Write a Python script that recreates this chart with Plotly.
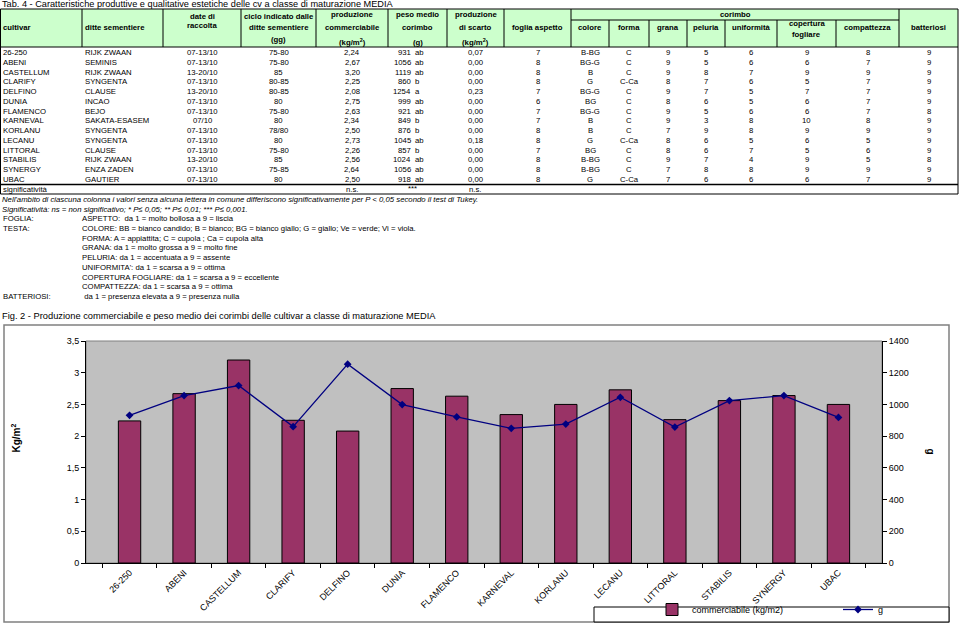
import plotly.graph_objects as go

# ---------------- data ----------------
cultivar = ["26-250", "ABENI", "CASTELLUM", "CLARIFY", "DELFINO", "DUNIA", "FLAMENCO",
            "KARNEVAL", "KORLANU", "LECANU", "LITTORAL", "STABILIS", "SYNERGY", "UBAC"]
ditte = ["RIJK ZWAAN", "SEMINIS", "RIJK ZWAAN", "SYNGENTA", "CLAUSE", "INCAO", "BEJO",
         "SAKATA-ESASEM", "SYNGENTA", "SYNGENTA", "CLAUSE", "RIJK ZWAAN", "ENZA ZADEN", "GAUTIER"]
date_raccolta = ["07-13/10", "07-13/10", "13-20/10", "07-13/10", "13-20/10", "07-13/10", "07-13/10",
                 "07/10", "07-13/10", "07-13/10", "07-13/10", "13-20/10", "07-13/10", "07-13/10"]
ciclo = ["75-80", "75-80", "85", "80-85", "80-85", "80", "75-80", "80", "78/80", "80",
         "75-80", "85", "75-85", "80"]
prod_comm = [2.24, 2.67, 3.20, 2.25, 2.08, 2.75, 2.63, 2.34, 2.50, 2.73, 2.26, 2.56, 2.64, 2.50]
peso_medio = [931, 1056, 1119, 860, 1254, 999, 921, 849, 876, 1045, 857, 1024, 1056, 918]
peso_lettere = ["ab", "ab", "ab", "b", "a", "ab", "ab", "b", "b", "ab", "b", "ab", "ab", "ab"]
prod_scarto = [0.07, 0.00, 0.00, 0.00, 0.23, 0.00, 0.00, 0.00, 0.00, 0.18, 0.00, 0.00, 0.00, 0.00]
foglia = [7, 8, 8, 8, 7, 6, 7, 7, 8, 8, 7, 8, 8, 8]
colore = ["B-BG", "BG-G", "B", "G", "BG-G", "BG", "BG-G", "B", "B", "G", "BG", "B-BG", "B-BG", "G"]
forma = ["C", "C", "C", "C-Ca", "C", "C", "C", "C", "C", "C-Ca", "C", "C", "C", "C-Ca"]
grana = [9, 9, 9, 8, 9, 8, 9, 9, 7, 8, 8, 9, 7, 7]
peluria = [5, 5, 8, 7, 7, 6, 5, 3, 9, 6, 6, 7, 8, 6]
uniformita = [6, 6, 7, 6, 5, 5, 6, 8, 8, 5, 7, 4, 8, 6]
copertura = [9, 6, 9, 5, 7, 6, 6, 10, 9, 6, 5, 9, 9, 6]
compattezza = [8, 7, 9, 7, 7, 7, 7, 8, 9, 5, 6, 5, 9, 7]
batteriosi = [9, 9, 9, 9, 9, 9, 8, 9, 9, 9, 9, 8, 9, 9]
significativita = {"comm": "n.s.", "peso": "***", "scarto": "n.s."}

title_tab = "Tab. 4 - Caratteristiche produttive e qualitative estetiche delle cv a classe di maturazione MEDIA"
title_fig = "Fig. 2 - Produzione commerciabile e peso medio dei corimbi delle cultivar a classe di maturazione MEDIA"
notes_italic = [
    "Nell'ambito di ciascuna colonna i valori senza alcuna lettera in comune differiscono significativamente per P < 0,05 secondo il test di Tukey.",
    "Significatività: ns = non significativo; * P≤ 0,05; ** P≤ 0,01; *** P≤ 0,001.",
]
notes_keys = [
    ("FOGLIA:", "ASPETTO:  da 1 = molto bollosa a 9 = liscia"),
    ("TESTA:", "COLORE: BB = bianco candido; B = bianco; BG = bianco giallo; G = giallo; Ve = verde; Vi = viola."),
    ("", "FORMA: A = appiattita; C = cupola ; Ca = cupola alta"),
    ("", "GRANA: da 1 = molto grossa a 9 = molto fine"),
    ("", "PELURIA: da 1 = accentuata a 9 = assente"),
    ("", "UNIFORMITA': da 1 = scarsa a 9 = ottima"),
    ("", "COPERTURA FOGLIARE: da 1 = scarsa a 9 = eccellente"),
    ("", "COMPATTEZZA: da 1 = scarsa a 9 = ottima"),
    ("BATTERIOSI:", " da 1 = presenza elevata a 9 = presenza nulla"),
]

# ---------------- layout constants ----------------
W, H = 960, 624
FONT = "Liberation Sans, Arial, sans-serif"
TFS = 7.75       # table font size
bounds = [0, 82, 163, 241, 316, 388, 447, 504, 571, 609, 649, 687, 725, 777, 836, 899, 958]
mid = [(bounds[i] + bounds[i + 1]) / 2 for i in range(len(bounds) - 1)]
HDR_TOP, HDR_BOT, SUB_Y = 9, 47, 20
ROW0, ROWSTEP = 52.5, 9.77
BODY_BOT, SIG_Y, SIG_BOT = 184.5, 189, 194
NOTE0, NOTESTEP = 199.5, 9.7
PLOT_L, PLOT_R, PLOT_T, PLOT_B = 86, 882, 341, 563


def px(x):
    return x / W


def py(y):
    return 1 - y / H


def fmt2(v):
    return f"{v:.2f}".replace(".", ",")


annotations = []
shapes = []


def txt(x, y, s, anchor="center", size=TFS, bold=False, italic=False, **kw):
    if bold:
        s = f"<b>{s}</b>"
    if italic:
        s = f"<i>{s}</i>"
    annotations.append(dict(x=px(x), y=py(y), xref="paper", yref="paper", text=s,
                            showarrow=False, xanchor=anchor, yanchor="middle",
                            font=dict(family=FONT, size=size, color="black"),
                            borderpad=0, **kw))


def hline(x0, x1, y, w=1, color="black"):
    shapes.append(dict(type="line", xref="paper", yref="paper", x0=px(x0), x1=px(x1),
                       y0=py(y), y1=py(y), line=dict(color=color, width=w)))


def vline(x, y0, y1, w=1, color="black"):
    shapes.append(dict(type="line", xref="paper", yref="paper", x0=px(x), x1=px(x),
                       y0=py(y0), y1=py(y1), line=dict(color=color, width=w)))


# ---------------- table header ----------------
shapes.append(dict(type="rect", xref="paper", yref="paper", x0=px(0.5), x1=px(bounds[-1]),
                   y0=py(HDR_TOP), y1=py(HDR_BOT), fillcolor="#ccffcc",
                   line=dict(color="black", width=1), layer="below"))
for b in [82, 163, 241, 316, 388, 447, 504, 571, 899]:
    vline(b, HDR_TOP, HDR_BOT)
for b in [609, 649, 687, 725, 777, 836]:
    vline(b, SUB_Y, HDR_BOT)
hline(571, 899, SUB_Y)

txt(2, 28, "cultivar", "left", bold=True)
txt(84, 28, "ditte sementiere", "left", bold=True)
txt(mid[2], 16, "date di", bold=True)
txt(mid[2], 26, "raccolta", bold=True)
txt(mid[3], 16.5, "ciclo indicato dalle", bold=True)
txt(mid[3], 27.5, "ditte sementiere", bold=True)
txt(mid[3], 39, "(gg)", bold=True)
for c, l1, l2, l3 in [(4, "produzione", "commerciabile", "(kg/m<sup>2</sup>)"),
                      (5, "peso medio", "corimbo", "(g)"),
                      (6, "produzione", "di scarto", "(kg/m<sup>2</sup>)")]:
    txt(mid[c], 14, l1, bold=True)
    txt(mid[c], 28, l2, bold=True)
    txt(mid[c], 42.5, l3, bold=True)
txt(mid[7], 28, "foglia aspetto", bold=True)
txt((571 + 899) / 2, 14.5, "corimbo", bold=True)
for c, lab in [(8, "colore"), (9, "forma"), (10, "grana"), (11, "peluria"),
               (12, "uniformità"), (14, "compattezza"), (15, "batteriosi")]:
    txt(mid[c], 28, lab, bold=True)
txt(mid[13], 24, "copertura", bold=True)
txt(mid[13], 34, "fogliare", bold=True)

# ---------------- table body ----------------
for i in range(len(cultivar)):
    y = ROW0 + i * ROWSTEP
    txt(2, y, cultivar[i], "left")
    txt(84, y, ditte[i], "left")
    txt(mid[2], y, date_raccolta[i])
    txt(mid[3], y, ciclo[i])
    txt(mid[4], y, fmt2(prod_comm[i]))
    txt(412, y, str(peso_medio[i]), "right")
    txt(414, y, peso_lettere[i], "left")
    txt(mid[6], y, fmt2(prod_scarto[i]))
    for c, arr in [(7, foglia), (8, colore), (9, forma), (10, grana), (11, peluria),
                   (12, uniformita), (13, copertura), (14, compattezza), (15, batteriosi)]:
        txt(mid[c], y, str(arr[i]))

vline(0.5, HDR_BOT, SIG_BOT)
vline(bounds[-1], HDR_BOT, SIG_BOT)
hline(0.5, bounds[-1], BODY_BOT, w=1.5)
hline(0.5, bounds[-1], SIG_BOT, w=1)

txt(2, SIG_Y, "significatività", "left")
txt(mid[4], SIG_Y, significativita["comm"])
txt(412, SIG_Y - 1, significativita["peso"])
txt(mid[6], SIG_Y, significativita["scarto"])

# ---------------- notes ----------------
for k, s in enumerate(notes_italic):
    txt(1, NOTE0 + k * NOTESTEP, s, "left", italic=True)
for k, (lab, s) in enumerate(notes_keys):
    y = NOTE0 + (k + 2) * NOTESTEP
    if lab:
        txt(2, y, lab, "left")
    txt(81, y, s, "left")

txt(1, 4.5, title_tab, "left", size=9.2)
txt(1, 316, title_fig, "left", size=9.3)

# ---------------- chart ----------------
shapes.append(dict(type="rect", xref="paper", yref="paper", x0=px(4), x1=px(949),
                   y0=py(325), y1=py(622), line=dict(color="#808080", width=1.5),
                   fillcolor="rgba(0,0,0,0)", layer="below"))
shapes.append(dict(type="rect", xref="x domain", yref="y domain", x0=0, x1=1, y0=0, y1=1,
                   fillcolor="#c0c0c0", line=dict(color="#808080", width=1), layer="below"))
# legend box
shapes.append(dict(type="rect", xref="paper", yref="paper", x0=px(594), x1=px(949),
                   y0=py(607), y1=py(622), line=dict(color="black", width=1),
                   fillcolor="white", layer="below"))

annotations.append(dict(x=px(7), y=py(455), xref="paper", yref="paper",
                        text="<b>Kg/m<sup>2</sup></b>", textangle=-90, showarrow=False,
                        font=dict(family=FONT, size=10, color="black")))
annotations.append(dict(x=px(938), y=py(456), xref="paper", yref="paper",
                        text="<b>g</b>", textangle=90, showarrow=False,
                        font=dict(family=FONT, size=10, color="black")))

fig = go.Figure()
fig.add_trace(go.Bar(x=cultivar, y=prod_comm, name="commerciabile (kg/m2)",
                     marker=dict(color="#993366", line=dict(color="black", width=1)),
                     hoverinfo="skip", legend="legend"))
fig.add_trace(go.Scatter(x=cultivar, y=peso_medio, name="g", yaxis="y2",
                         mode="lines+markers",
                         line=dict(color="#000080", width=1.3),
                         marker=dict(symbol="diamond", size=6, color="#000080"),
                         hoverinfo="skip", legend="legend2"))

axfont = dict(family=FONT, size=9, color="black")
legfont = dict(family=FONT, size=9, color="black")
fig.update_layout(
    width=W, height=H, autosize=False,
    margin=dict(l=0, r=0, t=0, b=0),
    paper_bgcolor="white", plot_bgcolor="rgba(0,0,0,0)",
    separators=",.",
    bargap=0.59,
    showlegend=True,
    legend=dict(x=px(652), y=0.0, xanchor="left", yanchor="bottom",
                bgcolor="rgba(0,0,0,0)", font=legfont, itemwidth=30),
    legend2=dict(x=px(838), y=0.0, xanchor="left", yanchor="bottom",
                 bgcolor="rgba(0,0,0,0)", font=legfont, itemwidth=30),
    xaxis=dict(domain=[px(PLOT_L), px(PLOT_R)], type="category", tickangle=-45,
               ticks="outside", ticklen=4, tickson="boundaries", tickcolor="black",
               showline=True, linecolor="black", linewidth=1, showgrid=False,
               tickfont=axfont, anchor="y", fixedrange=True, automargin=False),
    yaxis=dict(domain=[py(PLOT_B), py(PLOT_T)], range=[0, 3.5], dtick=0.5,
               ticks="outside", ticklen=4, tickcolor="black", showline=True,
               linecolor="black", linewidth=1, showgrid=False, zeroline=False,
               tickfont=axfont, fixedrange=True, automargin=False),
    yaxis2=dict(overlaying="y", side="right", anchor="x", range=[0, 1400], dtick=200,
                ticks="outside", ticklen=4, tickcolor="black", showline=True,
                linecolor="black", linewidth=1, showgrid=False, zeroline=False,
                tickfont=axfont, fixedrange=True, automargin=False),
    shapes=shapes,
    annotations=annotations,
)

fig.write_html("out.html",
               config={"displayModeBar": False},
               post_script="document.body.style.margin='0';document.body.style.overflow='hidden';")
